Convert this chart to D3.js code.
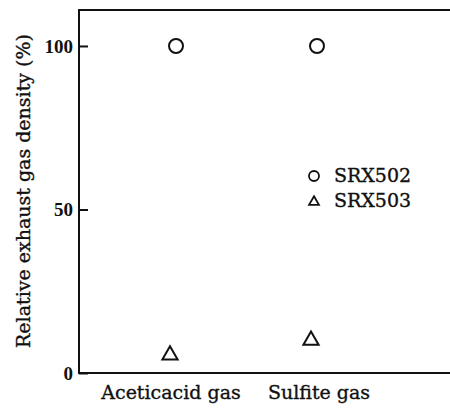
<!DOCTYPE html>
<html>
<head>
<meta charset="utf-8">
<script src="https://cdn.jsdelivr.net/npm/d3@7"></script>
<style>
  body { margin: 0; background: #fff; }
  text { fill: #111; }
</style>
</head>
<body>
<div id="chart"></div>
<script>
// data
var categories = ["Aceticacid gas", "Sulfite gas"];
var srx502 = [100, 100];
var srx503 = [5.5, 10];
var seriesNames = ["SRX502", "SRX503"];
var yTicks = [0, 50, 100];

// look
var width = 450;
var height = 408;
var frameLeft = 79, frameTop = 10, frameBottom = 373, frameRight = 450;
var serif = "'DejaVu Serif', serif";
var ink = "#111";
var labelShift = [-2, 5]; // small nudge of the category labels

const svg = d3.select("#chart").append("svg")
    .attr("width", width)
    .attr("height", height);

const x = d3.scalePoint()
    .domain(categories)
    .range([173, 314]);

const y = d3.scaleLinear()
    .domain([0, 111])
    .range([frameBottom, frameTop]);

// frame: left, top, bottom (no right side)
svg.append("path")
    .attr("d", "M" + frameRight + "," + frameTop + "H" + frameLeft + "V" + frameBottom + "H" + frameRight)
    .attr("fill", "none")
    .attr("stroke", ink)
    .attr("stroke-width", 2);

// y axis, ticks pointing inward
const yAxis = svg.append("g")
    .attr("transform", "translate(" + frameLeft + ",0)")
    .call(d3.axisLeft(y).tickValues(yTicks).tickSizeInner(-9).tickSizeOuter(0).tickPadding(6));
yAxis.select(".domain").remove();
yAxis.selectAll(".tick line").attr("stroke", ink).attr("stroke-width", 2);
yAxis.selectAll(".tick text")
    .attr("font-family", "'Liberation Serif', serif")
    .attr("font-weight", "bold")
    .attr("font-size", 19)
    .attr("fill", ink);

// category labels
svg.append("g")
  .selectAll("text")
  .data(categories)
  .join("text")
    .attr("x", (d, i) => x(d) + labelShift[i])
    .attr("y", 399)
    .attr("text-anchor", "middle")
    .attr("font-family", serif)
    .attr("font-size", 19)
    .attr("stroke", ink)
    .attr("stroke-width", 0.35)
    .text(d => d);

// y title
svg.append("text")
    .attr("transform", "translate(30,191) rotate(-90)")
    .attr("text-anchor", "middle")
    .attr("font-family", serif)
    .attr("font-size", 19)
    .attr("stroke", ink)
    .attr("stroke-width", 0.35)
    .text("Relative exhaust gas density (%)");

// SRX502 circles
svg.append("g")
  .selectAll("circle")
  .data(categories)
  .join("circle")
    .attr("cx", d => x(d) + 3)
    .attr("cy", (d, i) => y(srx502[i]))
    .attr("r", 7)
    .attr("fill", "none")
    .attr("stroke", ink)
    .attr("stroke-width", 2);

// SRX503 triangles
const tri = d3.symbol().type(d3.symbolTriangle).size(100);
svg.append("g")
  .selectAll("path")
  .data(categories)
  .join("path")
    .attr("d", tri)
    .attr("transform", (d, i) => "translate(" + (x(d) - 3) + "," + y(srx503[i]) + ")")
    .attr("fill", "none")
    .attr("stroke", ink)
    .attr("stroke-width", 2);

// legend
const legend = svg.append("g")
    .attr("transform", "translate(314,176)");
legend.append("circle")
    .attr("r", 5)
    .attr("fill", "none")
    .attr("stroke", ink)
    .attr("stroke-width", 1.8);
legend.append("path")
    .attr("d", d3.symbol().type(d3.symbolTriangle).size(42)())
    .attr("transform", "translate(0,26)")
    .attr("fill", "none")
    .attr("stroke", ink)
    .attr("stroke-width", 1.8);
legend.selectAll("text")
  .data(seriesNames)
  .join("text")
    .attr("x", 20)
    .attr("y", (d, i) => 6 + i * 25)
    .attr("font-family", serif)
    .attr("font-size", 19)
    .attr("stroke", ink)
    .attr("stroke-width", 0.35)
    .text(d => d);
</script>
</body>
</html>
